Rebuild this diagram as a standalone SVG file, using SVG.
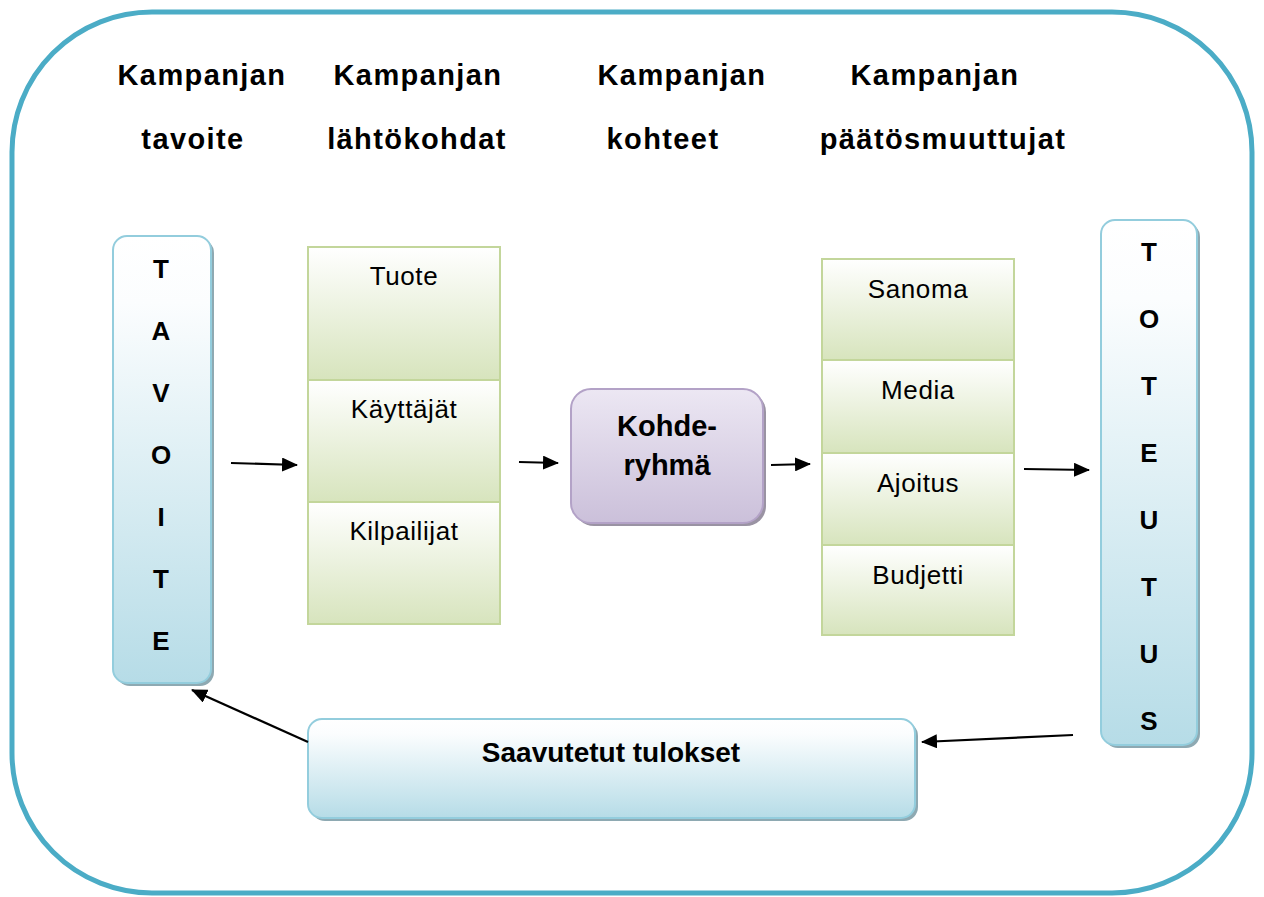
<svg xmlns="http://www.w3.org/2000/svg" width="1264" height="897" viewBox="0 0 1264 897">
  <defs>
    <linearGradient id="gBlue" x1="0" y1="0" x2="0" y2="1">
      <stop offset="0" stop-color="#ffffff"/>
      <stop offset="0.15" stop-color="#fbfdfe"/>
      <stop offset="1" stop-color="#b6dce7"/>
    </linearGradient>
    <linearGradient id="gGreen" x1="0" y1="0" x2="0" y2="1">
      <stop offset="0" stop-color="#ffffff"/>
      <stop offset="1" stop-color="#d7e4bd"/>
    </linearGradient>
    <linearGradient id="gPurple" x1="0" y1="0" x2="0" y2="1">
      <stop offset="0" stop-color="#ece7f3"/>
      <stop offset="1" stop-color="#cbc0da"/>
    </linearGradient>
    <marker id="arrow" viewBox="0 0 16 14" refX="15" refY="7" markerWidth="16" markerHeight="14" orient="auto" markerUnits="userSpaceOnUse">
      <path d="M0,0 L16,7 L0,14 z" fill="#000"/>
    </marker>
    <style>
      .frame { fill: #fff; stroke: #4bacc6; stroke-width: 5; }
      .head { font-family: "Liberation Sans", Arial, sans-serif; font-weight: bold; font-size: 29px; letter-spacing: 1.4px; text-anchor: middle; fill: #000; }
      .blue { fill: url(#gBlue); stroke: #93cddd; stroke-width: 2; }
      .bshadow { fill: #8ea9b2; }
      .green { fill: url(#gGreen); stroke: #c3d69b; stroke-width: 2; }
      .purple { fill: url(#gPurple); stroke: #b3a2c7; stroke-width: 2; }
      .pshadow { fill: #9a93a3; }
      .vlet { font-family: "Liberation Sans", Arial, sans-serif; font-weight: bold; font-size: 26px; text-anchor: middle; fill: #000; }
      .cell { font-family: "Liberation Sans", Arial, sans-serif; font-size: 26px; letter-spacing: 0.6px; text-anchor: middle; fill: #000; }
      .bold { font-family: "Liberation Sans", Arial, sans-serif; font-weight: bold; font-size: 29px; text-anchor: middle; fill: #000; }
      .bold2 { font-family: "Liberation Sans", Arial, sans-serif; font-weight: bold; font-size: 28px; text-anchor: middle; fill: #000; }
      .conn { stroke: #000; stroke-width: 2.2; fill: none; marker-end: url(#arrow); }
    </style>
  </defs>

  <!-- outer frame -->
  <rect class="frame" x="12" y="12" width="1240" height="881" rx="140" ry="140"/>

  <!-- column headings -->
  <g id="headings">
    <text class="head" x="202" y="85">Kampanjan</text>
    <text class="head" x="193" y="149">tavoite</text>
    <text class="head" x="418" y="85">Kampanjan</text>
    <text class="head" x="417" y="149">lähtökohdat</text>
    <text class="head" x="682" y="85">Kampanjan</text>
    <text class="head" x="663" y="149">kohteet</text>
    <text class="head" x="935" y="85">Kampanjan</text>
    <text class="head" x="943" y="149">päätösmuuttujat</text>
  </g>

  <!-- goal column -->
  <g id="tavoite">
    <rect class="bshadow" x="116" y="239" width="98" height="447" rx="14"/>
    <rect class="blue" x="113" y="236" width="98" height="447" rx="14"/>
    <text class="vlet" x="161" y="278">T</text>
    <text class="vlet" x="161" y="340">A</text>
    <text class="vlet" x="161" y="402">V</text>
    <text class="vlet" x="161" y="464">O</text>
    <text class="vlet" x="161" y="526">I</text>
    <text class="vlet" x="161" y="588">T</text>
    <text class="vlet" x="161" y="650">E</text>
  </g>

  <!-- starting points -->
  <g id="lahtokohdat">
    <rect class="green" x="308" y="247" width="192" height="133"/>
    <rect class="green" x="308" y="380" width="192" height="122"/>
    <rect class="green" x="308" y="502" width="192" height="122"/>
    <text class="cell" x="404" y="285">Tuote</text>
    <text class="cell" x="404" y="418">Käyttäjät</text>
    <text class="cell" x="404" y="540">Kilpailijat</text>
  </g>

  <!-- target group -->
  <g id="kohderyhma">
    <rect class="pshadow" x="574" y="392" width="192" height="134" rx="20"/>
    <rect class="purple" x="571" y="389" width="192" height="134" rx="20"/>
    <text class="bold" x="667" y="436">Kohde-</text>
    <text class="bold" x="667" y="475">ryhmä</text>
  </g>

  <!-- decision variables -->
  <g id="paatosmuuttujat">
    <rect class="green" x="822" y="259" width="192" height="101"/>
    <rect class="green" x="822" y="360" width="192" height="93"/>
    <rect class="green" x="822" y="453" width="192" height="92"/>
    <rect class="green" x="822" y="545" width="192" height="90"/>
    <text class="cell" x="918" y="298">Sanoma</text>
    <text class="cell" x="918" y="399">Media</text>
    <text class="cell" x="918" y="492">Ajoitus</text>
    <text class="cell" x="918" y="584">Budjetti</text>
  </g>

  <!-- implementation column -->
  <g id="toteutus">
    <rect class="bshadow" x="1104" y="223" width="96" height="525" rx="14"/>
    <rect class="blue" x="1101" y="220" width="96" height="525" rx="14"/>
    <text class="vlet" x="1149" y="261">T</text>
    <text class="vlet" x="1149" y="328">O</text>
    <text class="vlet" x="1149" y="395">T</text>
    <text class="vlet" x="1149" y="462">E</text>
    <text class="vlet" x="1149" y="529">U</text>
    <text class="vlet" x="1149" y="596">T</text>
    <text class="vlet" x="1149" y="663">U</text>
    <text class="vlet" x="1149" y="730">S</text>
  </g>

  <!-- achieved results -->
  <g id="tulokset">
    <rect class="bshadow" x="311" y="722" width="607" height="99" rx="14"/>
    <rect class="blue" x="308" y="719" width="607" height="99" rx="14"/>
    <text class="bold2" x="611" y="762">Saavutetut tulokset</text>
  </g>

  <!-- connectors -->
  <g id="connectors">
    <line class="conn" x1="231" y1="463" x2="297" y2="465"/>
    <line class="conn" x1="519" y1="462" x2="558" y2="463"/>
    <line class="conn" x1="771" y1="465" x2="810" y2="464"/>
    <line class="conn" x1="1024" y1="469" x2="1089" y2="470"/>
    <line class="conn" x1="1073" y1="735" x2="922" y2="742"/>
    <line class="conn" x1="308" y1="742" x2="192" y2="690"/>
  </g>
</svg>
